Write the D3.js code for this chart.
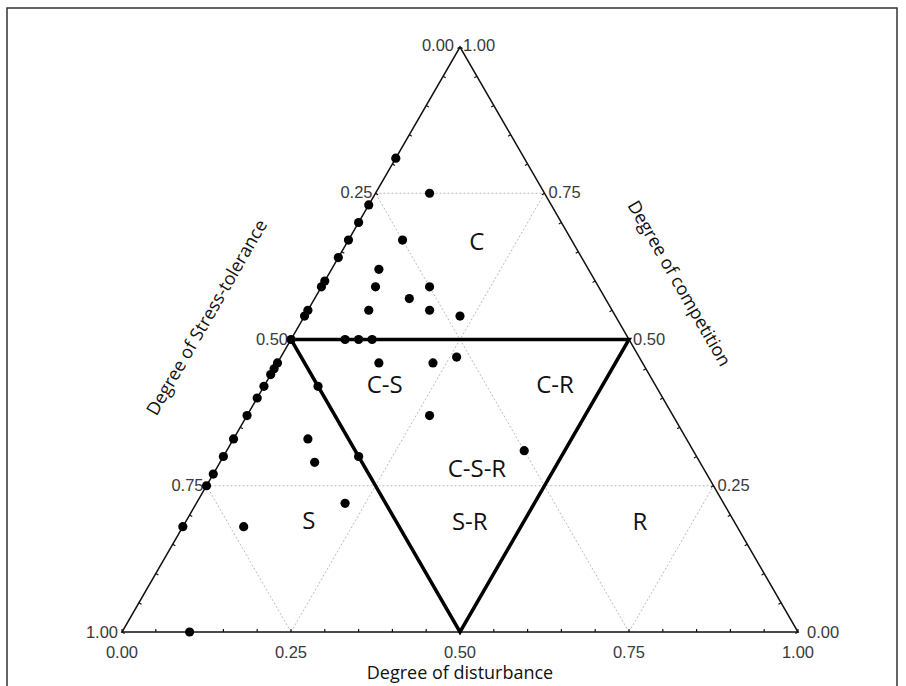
<!DOCTYPE html>
<html>
<head>
<meta charset="utf-8">
<script src="https://cdn.jsdelivr.net/npm/d3@7"></script>
<style>
  body { margin: 0; background: #fff; }
  svg { display: block; }
</style>
</head>
<body>
<script>
// ternary values: competition (C), stress-tolerance (S), disturbance (R)
const competition = [0.81, 0.73, 0.70, 0.67, 0.64, 0.60, 0.59, 0.55, 0.54, 0.50, 0.46, 0.45, 0.44, 0.42, 0.40, 0.37, 0.33, 0.30, 0.27, 0.25, 0.18,
  0.75, 0.67, 0.62, 0.59, 0.59, 0.57, 0.55, 0.55, 0.54, 0.50, 0.50, 0.50, 0.46, 0.46, 0.47, 0.42, 0.37, 0.33, 0.29, 0.30, 0.31, 0.22, 0.18, 0.00]
const disturbance = [0, 0, 0, 0, 0, 0, 0, 0, 0, 0, 0, 0, 0, 0, 0, 0, 0, 0, 0, 0, 0,
  0.08, 0.08, 0.07, 0.08, 0.16, 0.14, 0.09, 0.18, 0.23, 0.08, 0.10, 0.12, 0.15, 0.23, 0.26, 0.08, 0.27, 0.11, 0.14, 0.20, 0.44, 0.22, 0.09, 0.10]
const stress = competition.map((c, i) => +(1 - c - disturbance[i]).toFixed(2))

const gridLevels = [0.25, 0.5, 0.75]
const tickLabels = ['0.00', '0.25', '0.50', '0.75', '1.00']
const regionNames = ['C', 'C-S', 'C-R', 'C-S-R', 'S', 'S-R', 'R']
const regionC = [0.67, 0.425, 0.425, 0.282, 0.193, 0.191, 0.19]
const regionR = [0.19, 0.176, 0.428, 0.384, 0.18, 0.419, 0.671]

const width = 906, height = 686
const x = d3.scaleLinear().domain([0, 1]).range([122, 798])
const y = d3.scaleLinear().domain([0, 1]).range([632, 47])
// project (competition, disturbance) onto the page
const px = (c, r) => x(r + c / 2)
const py = c => y(c)

const svg = d3.select('body').append('svg')
  .attr('width', width)
  .attr('height', height)

svg.append('rect')
  .attr('x', 7).attr('y', 8)
  .attr('width', 890).attr('height', 700)
  .attr('fill', 'none')
  .attr('stroke', '#333')
  .attr('stroke-width', 1.5)

const line = d3.line()
const grid = svg.append('g')
  .attr('stroke', '#bbb')
  .attr('stroke-width', 1)
  .attr('stroke-dasharray', '2,2')
  .attr('fill', 'none')

gridLevels.forEach(v => {
  // constant competition
  grid.append('path').attr('d', line([[px(v, 0), py(v)], [px(v, 1 - v), py(v)]]))
  // constant disturbance
  grid.append('path').attr('d', line([[px(0, v), py(0)], [px(1 - v, v), py(1 - v)]]))
  // constant stress
  grid.append('path').attr('d', line([[px(0, 1 - v), py(0)], [px(1 - v, 0), py(1 - v)]]))
})

// outer triangle
svg.append('path')
  .attr('d', line([[px(0, 0), py(0)], [px(0, 1), py(0)], [px(1, 0), py(1)]]) + 'Z')
  .attr('fill', 'none')
  .attr('stroke', '#111')
  .attr('stroke-width', 1.5)

// minor ticks every 0.05 on each edge
const tickVals = d3.range(0, 1.0001, 0.05)
const ticks = svg.append('g').attr('stroke', '#111').attr('stroke-width', 1.2)
tickVals.forEach(t => {
  ticks.append('line')
    .attr('x1', x(t)).attr('x2', x(t))
    .attr('y1', py(0)).attr('y2', py(0) - 3)
  ticks.append('line')
    .attr('x1', px(t, 0)).attr('y1', py(t))
    .attr('x2', px(t, 0) + 3 * 0.866).attr('y2', py(t) + 1.5)
  ticks.append('line')
    .attr('x1', px(t, 1 - t)).attr('y1', py(t))
    .attr('x2', px(t, 1 - t) - 3 * 0.866).attr('y2', py(t) + 1.5)
})

// C-S-R inner triangle
svg.append('path')
  .attr('d', line([[px(0.5, 0), py(0.5)], [px(0.5, 0.5), py(0.5)], [px(0, 0.5), py(0)]]) + 'Z')
  .attr('fill', 'none')
  .attr('stroke', '#000')
  .attr('stroke-width', 3.5)
  .attr('stroke-linejoin', 'miter')

// tick labels
const labelFont = '"Liberation Sans", Arial, sans-serif'
const labels = svg.append('g')
  .style('font-family', labelFont)
  .style('font-size', '16.5px')
  .attr('fill', '#3a3a3a')

tickLabels.forEach((lab, i) => {
  const v = i / 4
  labels.append('text')
    .attr('x', x(v)).attr('y', py(0) + 26)
    .attr('text-anchor', 'middle')
    .text(lab)
  if (i < 4) {
    // stress on the left edge, competition on the right edge
    const c = 1 - v
    labels.append('text')
      .attr('x', px(c, 0) - (i === 0 ? 6 : 3)).attr('y', py(c) + (i === 0 ? 4 : 5))
      .attr('text-anchor', 'end')
      .text(lab)
    labels.append('text')
      .attr('x', px(c, 1 - c) + (i === 0 ? 3 : 4)).attr('y', py(c) + (i === 0 ? 4 : 5))
      .attr('text-anchor', 'start')
      .text(tickLabels[4 - i])
  }
})
labels.append('text')
  .attr('x', px(0, 0) - 4).attr('y', py(0) + 6)
  .attr('text-anchor', 'end').text(tickLabels[4])
labels.append('text')
  .attr('x', px(0, 1) + 9).attr('y', py(0) + 6)
  .attr('text-anchor', 'start').text(tickLabels[0])

// points
svg.append('g').selectAll('circle')
  .data(competition.map((c, i) => ({ c, r: disturbance[i], s: stress[i] })))
  .enter().append('circle')
  .attr('cx', d => px(d.c, d.r))
  .attr('cy', d => py(d.c))
  .attr('r', 4.6)
  .attr('fill', '#000')

// region labels
const textFont = '"Open Sans", "Noto Sans", sans-serif'
svg.append('g').selectAll('text')
  .data(regionNames)
  .enter().append('text')
  .attr('x', (d, i) => px(regionC[i], regionR[i]))
  .attr('y', (d, i) => py(regionC[i]))
  .attr('text-anchor', 'middle')
  .attr('dominant-baseline', 'central')
  .style('font-family', textFont)
  .style('font-size', '24px')
  .attr('fill', '#111')
  .text(d => d)

// axis titles
const titles = svg.append('g')
  .style('font-family', textFont)
  .style('font-size', '18px')
  .attr('fill', '#111')
titles.append('text')
  .attr('x', 460).attr('y', 679)
  .attr('text-anchor', 'middle')
  .text('Degree of disturbance')
titles.append('text')
  .attr('transform', 'translate(206,317) rotate(-60)')
  .attr('text-anchor', 'middle')
  .attr('dominant-baseline', 'central')
  .text('Degree of Stress-tolerance')
titles.append('text')
  .attr('transform', 'translate(680,283) rotate(60)')
  .attr('text-anchor', 'middle')
  .attr('dominant-baseline', 'central')
  .text('Degree of competition')
</script>
</body>
</html>
